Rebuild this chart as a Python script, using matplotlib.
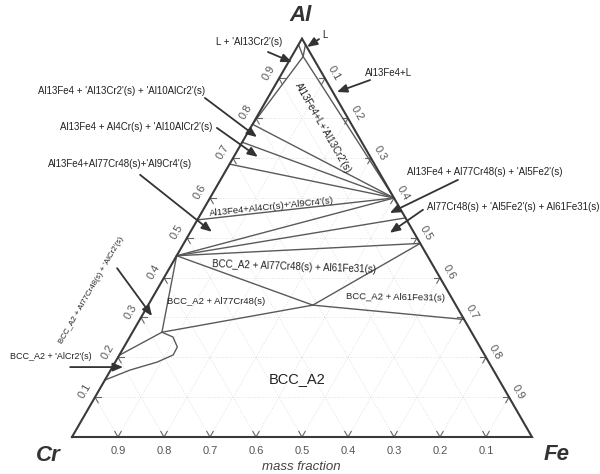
import numpy as np
import matplotlib
matplotlib.use("Agg")
import matplotlib.pyplot as plt

plt.rcParams["font.family"] = ["Liberation Sans", "DejaVu Sans"]

# Phase points as mass fractions (Al, Fe); Cr is the remainder
L_PT = (0.955, 0.025)
AL13CR2 = (0.785, 0.0)
AL10ALCR2 = (0.740, 0.0)
AL4CR = (0.685, 0.0)
AL9CR4 = (0.545, 0.0)
AL77CR48 = (0.455, 0.0)
ALCR2 = (0.205, 0.0)
AL13FE4 = (0.600, 0.400)
AL5FE2 = (0.550, 0.450)
AL61FE31 = (0.486, 0.514)
BCC_MID = (0.331, 0.358)
BCC_CR = (0.263, 0.064)
BCC_FE = (0.295, 0.705)

# liquid pocket at the Al corner
liq_al = [0.985, 0.955, 0.985]
liq_fe = [0.015, 0.025, 0.0]

# BCC_A2 / AlCr2 lens
lens_al = [0.263, 0.251, 0.226, 0.206, 0.188, 0.168, 0.143]
lens_fe = [0.064, 0.094, 0.116, 0.117, 0.091, 0.042, 0.0]

tie_lines = [
    (L_PT, AL13CR2), (L_PT, AL13FE4),
    (AL13FE4, AL13CR2), (AL13FE4, AL10ALCR2), (AL13FE4, AL4CR),
    (AL13FE4, AL9CR4), (AL13FE4, AL77CR48),
    (AL77CR48, AL5FE2), (AL77CR48, AL61FE31), (AL77CR48, BCC_MID),
    (AL61FE31, BCC_MID), (BCC_MID, BCC_CR), (BCC_MID, BCC_FE),
    (AL77CR48, BCC_CR), (ALCR2, BCC_CR),
]

ticks = [0.1, 0.2, 0.3, 0.4, 0.5, 0.6, 0.7, 0.8, 0.9]

# region labels with arrows: text, text xy, arrow tail, arrow head, rotation, size
arrow_labels = [
    ("L + 'Al13Cr2'(s)", (0.385, 0.859), (0.426, 0.837), (0.478, 0.815), 0, 7),
    ("L", (0.550, 0.873), (0.537, 0.865), (0.511, 0.848), 0, 7),
    ("Al13Fe4+L", (0.689, 0.791), (0.648, 0.776), (0.576, 0.750), 0, 7),
    ("Al13Fe4 + 'Al13Cr2'(s) + 'Al10AlCr2'(s)", (0.107, 0.752),
     (0.289, 0.737), (0.402, 0.652), 0, 7),
    ("Al13Fe4 + Al4Cr(s) + 'Al10AlCr2'(s)", (0.139, 0.674),
     (0.315, 0.672), (0.404, 0.609), 0, 7),
    ("Al13Fe4+Al77Cr48(s)+'Al9Cr4'(s)", (0.104, 0.594),
     (0.148, 0.570), (0.304, 0.446), 0, 7),
    ("Al13Fe4 + Al77Cr48(s) + 'Al5Fe2'(s)", (0.898, 0.576),
     (0.839, 0.559), (0.691, 0.487), 0, 7),
    ("Al77Cr48(s) + 'Al5Fe2'(s) + Al61Fe31(s)", (0.959, 0.500),
     (0.763, 0.494), (0.691, 0.444), 0, 7),
    ("BCC_A2 + Al77Cr48(s) + 'AlCr2'(s)", (0.043, 0.318),
     (0.098, 0.367), (0.174, 0.263), 60, 5.7),
    ("BCC_A2 + 'AlCr2'(s)", (-0.046, 0.174), (-0.004, 0.152), (0.111, 0.152), 0, 6.5),
]

# region labels inside the diagram: text, xy, rotation, size
plain_labels = [
    ("Al13Fe4+L+'Al13Cr2'(s)", (0.545, 0.672), -60, 7),
    ("Al13Fe4+Al4Cr(s)+'Al9Cr4'(s)", (0.435, 0.500), 6, 6.8),
    ("BCC_A2 + Al77Cr48(s) + Al61Fe31(s)", (0.483, 0.370), -2, 7),
    ("BCC_A2 + Al77Cr48(s)", (0.313, 0.294), 0, 6.8),
    ("BCC_A2 + Al61Fe31(s)", (0.704, 0.304), -1, 6.8),
    ("BCC_A2", (0.489, 0.126), 0, 10.5),
]

SQ3 = np.sqrt(3) / 2


def tern(al, fe):
    al = np.asarray(al, float)
    fe = np.asarray(fe, float)
    return fe + al / 2, al * SQ3


fig = plt.figure(figsize=(6, 4.74), dpi=100)
ax = fig.add_axes([0, 0, 1, 1])
ax.set_xlim(-72 / 460, 528 / 460)
ax.set_ylim(-37 / 460, 437 / 460)
ax.axis("off")

grid_kw = dict(color="#d8d8d8", lw=0.6, ls=(0, (1, 2)), zorder=1)
tick_kw = dict(color="#666666", lw=0.8, zorder=2)
for v in ticks:
    segs = [
        ([v, v], [0, 1 - v]),          # constant Al
        ([0, 1 - v], [v, v]),          # constant Fe
        ([1 - v, 0], [0, 1 - v]),      # constant Cr
    ]
    for al, fe in segs:
        x, y = tern(al, fe)
        ax.plot(x, y, **grid_kw)
        d = np.array([x[1] - x[0], y[1] - y[0]])
        d = d / np.hypot(*d) * 0.014
        ax.plot([x[0], x[0] + d[0]], [y[0], y[0] + d[1]], **tick_kw)
        ax.plot([x[1], x[1] - d[0]], [y[1], y[1] - d[1]], **tick_kw)

# triangle frame
fx, fy = tern([0, 0, 1, 0], [0, 1, 0, 0])
ax.plot(fx, fy, color="#3a3a3a", lw=1.5, zorder=4, solid_joinstyle="miter")

# phase boundaries
line_kw = dict(color="#5a5a5a", lw=1.0, zorder=3)
for p, q in tie_lines:
    x, y = tern([p[0], q[0]], [p[1], q[1]])
    ax.plot(x, y, **line_kw)
ax.plot(*tern(liq_al, liq_fe), **line_kw)
ax.plot(*tern(lens_al, lens_fe), **line_kw)

# axis tick labels
lab_kw = dict(fontsize=8, color="#555555", ha="center", va="center")
for v in ticks:
    ax.text(1 - v, -0.030, f"{v:.1f}", **lab_kw)
    x, y = tern(v, 0)
    ax.text(x - 0.026 * SQ3, y + 0.013, f"{v:.1f}", rotation=60, **lab_kw)
    x, y = tern(1 - v, v)
    ax.text(x + 0.022 * SQ3, y + 0.011, f"{v:.1f}", rotation=-60, **lab_kw)

corner_kw = dict(fontsize=16, fontweight="bold", fontstyle="italic",
                 color="#333333", ha="center", va="center")
ax.text(0.496, 0.917, "Al", **corner_kw)
ax.text(-0.052, -0.040, "Cr", **corner_kw)
ax.text(1.054, -0.037, "Fe", **corner_kw)
ax.text(0.498, -0.065, "mass fraction", fontsize=9.5, fontstyle="italic",
        color="#444444", ha="center", va="center")

for text, xy, tail, head, rot, size in arrow_labels:
    ax.text(*xy, text, fontsize=size, color="#222222", ha="center",
            va="center", rotation=rot)
    ax.annotate("", xy=head, xytext=tail,
                arrowprops=dict(arrowstyle="-|>,head_length=0.6,head_width=0.25",
                                color="#333333", lw=1.3, shrinkA=0, shrinkB=0),
                zorder=5)

for text, xy, rot, size in plain_labels:
    ax.text(*xy, text, fontsize=size, color="#222222", ha="center",
            va="center", rotation=rot)

fig.savefig("out.png", dpi=100, facecolor="white")
